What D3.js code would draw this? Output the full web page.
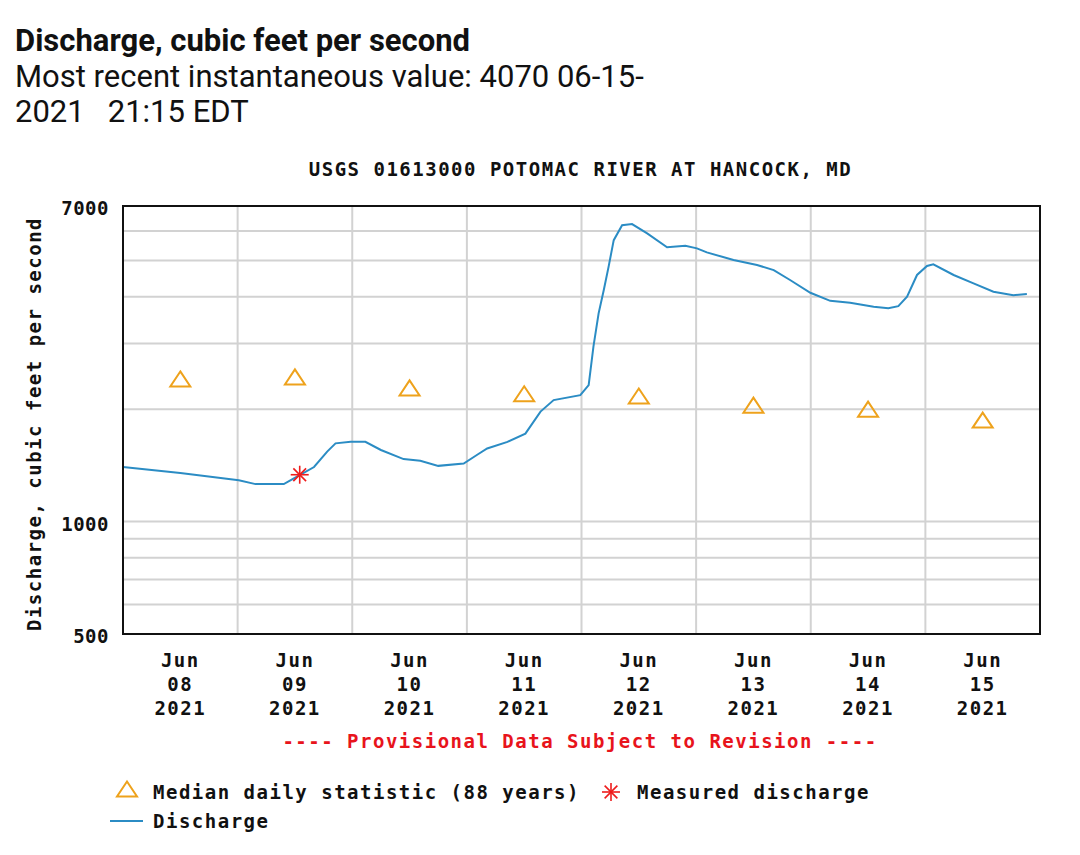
<!DOCTYPE html>
<html lang="en">
<head>
  <meta charset="UTF-8">
  <title>USGS 01613000 Potomac River at Hancock, MD</title>
  <script src="https://cdn.jsdelivr.net/npm/d3@7.9.0/dist/d3.min.js"></script>
  <style>
    body { margin: 0; background: #fff; }
    .mono { font-family: "DejaVu Sans Mono", monospace; font-weight: bold; font-size: 19px; letter-spacing: 1.5px; }
    .head { font-family: Roboto, "Noto Sans", sans-serif; font-size: 31px; fill: #111; }
  </style>
</head>
<body>
<div id="chart"></div>
<script>
  // 15-minute discharge (cfs)
  const times = [
    "2021-06-08 00:00", "2021-06-08 12:00", "2021-06-09 00:15", "2021-06-09 03:45",
    "2021-06-09 09:40", "2021-06-09 11:30", "2021-06-09 16:00", "2021-06-09 18:45",
    "2021-06-09 20:30", "2021-06-09 23:40", "2021-06-10 02:45", "2021-06-10 06:00",
    "2021-06-10 10:45", "2021-06-10 14:15", "2021-06-10 18:00", "2021-06-10 23:20",
    "2021-06-11 02:10", "2021-06-11 04:15", "2021-06-11 08:30", "2021-06-11 12:15",
    "2021-06-11 15:25", "2021-06-11 18:10", "2021-06-11 23:45", "2021-06-12 01:30",
    "2021-06-12 02:30", "2021-06-12 03:35", "2021-06-12 04:40", "2021-06-12 05:40",
    "2021-06-12 06:45", "2021-06-12 08:30", "2021-06-12 10:35", "2021-06-12 13:45",
    "2021-06-12 17:55", "2021-06-12 21:45", "2021-06-13 00:10", "2021-06-13 02:15",
    "2021-06-13 07:50", "2021-06-13 12:45", "2021-06-13 16:15", "2021-06-13 19:40",
    "2021-06-13 23:55", "2021-06-14 04:05", "2021-06-14 08:15", "2021-06-14 13:10",
    "2021-06-14 16:15", "2021-06-14 18:20", "2021-06-14 20:10", "2021-06-14 22:15",
    "2021-06-15 00:20", "2021-06-15 01:40", "2021-06-15 05:55", "2021-06-15 10:05",
    "2021-06-15 14:15", "2021-06-15 18:25", "2021-06-15 21:15"
  ];
  const flows = [
    1400, 1350, 1290, 1260,
    1260, 1300, 1400, 1540,
    1620, 1635, 1635, 1555,
    1470, 1455, 1410, 1430,
    1510, 1570, 1635, 1720,
    1970, 2115, 2180, 2320,
    2940, 3610, 4170, 4810,
    5670, 6220, 6260, 5910,
    5425, 5480, 5390, 5260,
    5015, 4865, 4715, 4435,
    4100, 3900, 3855, 3760,
    3725, 3775, 4000, 4575,
    4835, 4885, 4575, 4345,
    4125, 4040, 4070
  ];

  // median daily statistic (88 years), plotted at noon
  const medianDays = ["2021-06-08", "2021-06-09", "2021-06-10", "2021-06-11",
                      "2021-06-12", "2021-06-13", "2021-06-14", "2021-06-15"];
  const medianFlows = [2410, 2440, 2280, 2200, 2170, 2050, 2000, 1870];

  // field measurement
  const measuredTime = "2021-06-09 13:00";
  const measuredFlow = 1335;

  const yTicks = [500, 600, 700, 800, 900, 1000, 2000, 3000, 4000, 5000, 6000, 7000];
  const yLabels = [500, 1000, 7000];

  const parseT = d3.timeParse("%Y-%m-%d %H:%M");
  const parseD = d3.timeParse("%Y-%m-%d");

  const W = 1080, H = 855;
  const plot = { left: 123, right: 1040, top: 206, bottom: 634 };

  const svg = d3.select("#chart").append("svg")
    .attr("width", W).attr("height", H);

  // page header
  svg.append("text").attr("class", "head").attr("x", 15).attr("y", 51)
    .style("font-weight", "bold").text("Discharge, cubic feet per second");
  svg.append("text").attr("class", "head").attr("x", 15).attr("y", 87)
    .text("Most recent instantaneous value: 4070 06-15-");
  svg.append("text").attr("class", "head").attr("x", 15).attr("y", 122)
    .style("white-space", "pre").text("2021   21:15 EDT");

  const x = d3.scaleTime()
    .domain([parseD("2021-06-08"), parseD("2021-06-16")])
    .range([plot.left, plot.right]);
  const y = d3.scaleLog()
    .domain([500, 7000])
    .range([plot.bottom, plot.top]);

  // title
  svg.append("text").attr("class", "mono")
    .attr("x", (plot.left + plot.right) / 2 - 1).attr("y", 176)
    .attr("text-anchor", "middle").attr("fill", "#111")
    .text("USGS 01613000 POTOMAC RIVER AT HANCOCK, MD");

  // grid
  const grid = svg.append("g").attr("stroke", "#d2d2d2").attr("stroke-width", 2);
  grid.selectAll("line.h").data(yTicks.slice(1, -1)).enter().append("line")
    .attr("x1", plot.left).attr("x2", plot.right)
    .attr("y1", d => y(d)).attr("y2", d => y(d));
  grid.selectAll("line.v").data(d3.timeDay.range(parseD("2021-06-09"), parseD("2021-06-16")))
    .enter().append("line")
    .attr("y1", plot.top).attr("y2", plot.bottom)
    .attr("x1", d => x(d)).attr("x2", d => x(d));

  // y labels
  svg.append("g").selectAll("text").data(yLabels).enter().append("text")
    .attr("class", "mono").attr("fill", "#111")
    .attr("x", 109).attr("y", d => y(d) + 9)
    .attr("text-anchor", "end")
    .style("letter-spacing", "0.5px")
    .text(d => d);

  svg.append("text").attr("class", "mono").attr("fill", "#111")
    .attr("transform", "translate(41,424) rotate(-90)")
    .attr("text-anchor", "middle")
    .text("Discharge, cubic feet per second");

  // x tick labels at noon
  const fmtM = d3.timeFormat("%b"), fmtD = d3.timeFormat("%d"), fmtY = d3.timeFormat("%Y");
  const xl = svg.append("g").selectAll("text")
    .data(d3.timeDay.range(parseD("2021-06-08"), parseD("2021-06-16")))
    .enter().append("text")
    .attr("class", "mono").attr("fill", "#111").attr("text-anchor", "middle");
  xl.append("tspan").attr("x", d => x(d3.timeHour.offset(d, 12))).attr("y", 667).text(fmtM);
  xl.append("tspan").attr("x", d => x(d3.timeHour.offset(d, 12))).attr("y", 691).text(fmtD);
  xl.append("tspan").attr("x", d => x(d3.timeHour.offset(d, 12))).attr("y", 715).text(fmtY);

  // discharge line
  const series = times.map((t, i) => ({ t: parseT(t), v: flows[i] }));
  svg.append("path").datum(series)
    .attr("fill", "none").attr("stroke", "#2b8cc4").attr("stroke-width", 2)
    .attr("d", d3.line().x(d => x(d.t)).y(d => y(d.v)));

  // median triangles
  const tri = "M0,-7.5L10,7.5L-10,7.5Z";
  const medians = medianDays.map((d, i) => ({ t: d3.timeHour.offset(parseD(d), 12), v: medianFlows[i] }));
  svg.append("g").selectAll("path").data(medians).enter().append("path")
    .attr("d", tri)
    .attr("transform", d => `translate(${x(d.t)},${y(d.v)})`)
    .attr("fill", "none").attr("stroke", "#eea21c").attr("stroke-width", 2);

  // measured discharge asterisk
  function star(g, cx, cy, r) {
    [0, 45, 90, 135].forEach(a => {
      const rad = a * Math.PI / 180;
      g.append("line")
        .attr("x1", cx - r * Math.cos(rad)).attr("y1", cy - r * Math.sin(rad))
        .attr("x2", cx + r * Math.cos(rad)).attr("y2", cy + r * Math.sin(rad))
        .attr("stroke", "#ee1c1c").attr("stroke-width", 1.6);
    });
  }
  star(svg.append("g"), x(parseT(measuredTime)), y(measuredFlow), 9);

  // frame
  svg.append("rect")
    .attr("x", plot.left).attr("y", plot.top)
    .attr("width", plot.right - plot.left).attr("height", plot.bottom - plot.top)
    .attr("fill", "none").attr("stroke", "#111").attr("stroke-width", 2);

  // provisional note
  svg.append("text").attr("class", "mono")
    .attr("x", 580).attr("y", 748).attr("text-anchor", "middle")
    .attr("fill", "#e8141c")
    .text("---- Provisional Data Subject to Revision ----");

  // legend
  const lg = svg.append("g");
  lg.append("path").attr("d", tri).attr("transform", "translate(127,789)")
    .attr("fill", "none").attr("stroke", "#eea21c").attr("stroke-width", 2);
  lg.append("text").attr("class", "mono").attr("fill", "#111")
    .attr("x", 153).attr("y", 799).text("Median daily statistic (88 years)");
  star(lg, 611, 792, 9);
  lg.append("text").attr("class", "mono").attr("fill", "#111")
    .attr("x", 637).attr("y", 799).text("Measured discharge");
  lg.append("line").attr("x1", 110).attr("x2", 143).attr("y1", 821).attr("y2", 821)
    .attr("stroke", "#2b8cc4").attr("stroke-width", 2);
  lg.append("text").attr("class", "mono").attr("fill", "#111")
    .attr("x", 153).attr("y", 828).text("Discharge");
</script>
</body>
</html>
